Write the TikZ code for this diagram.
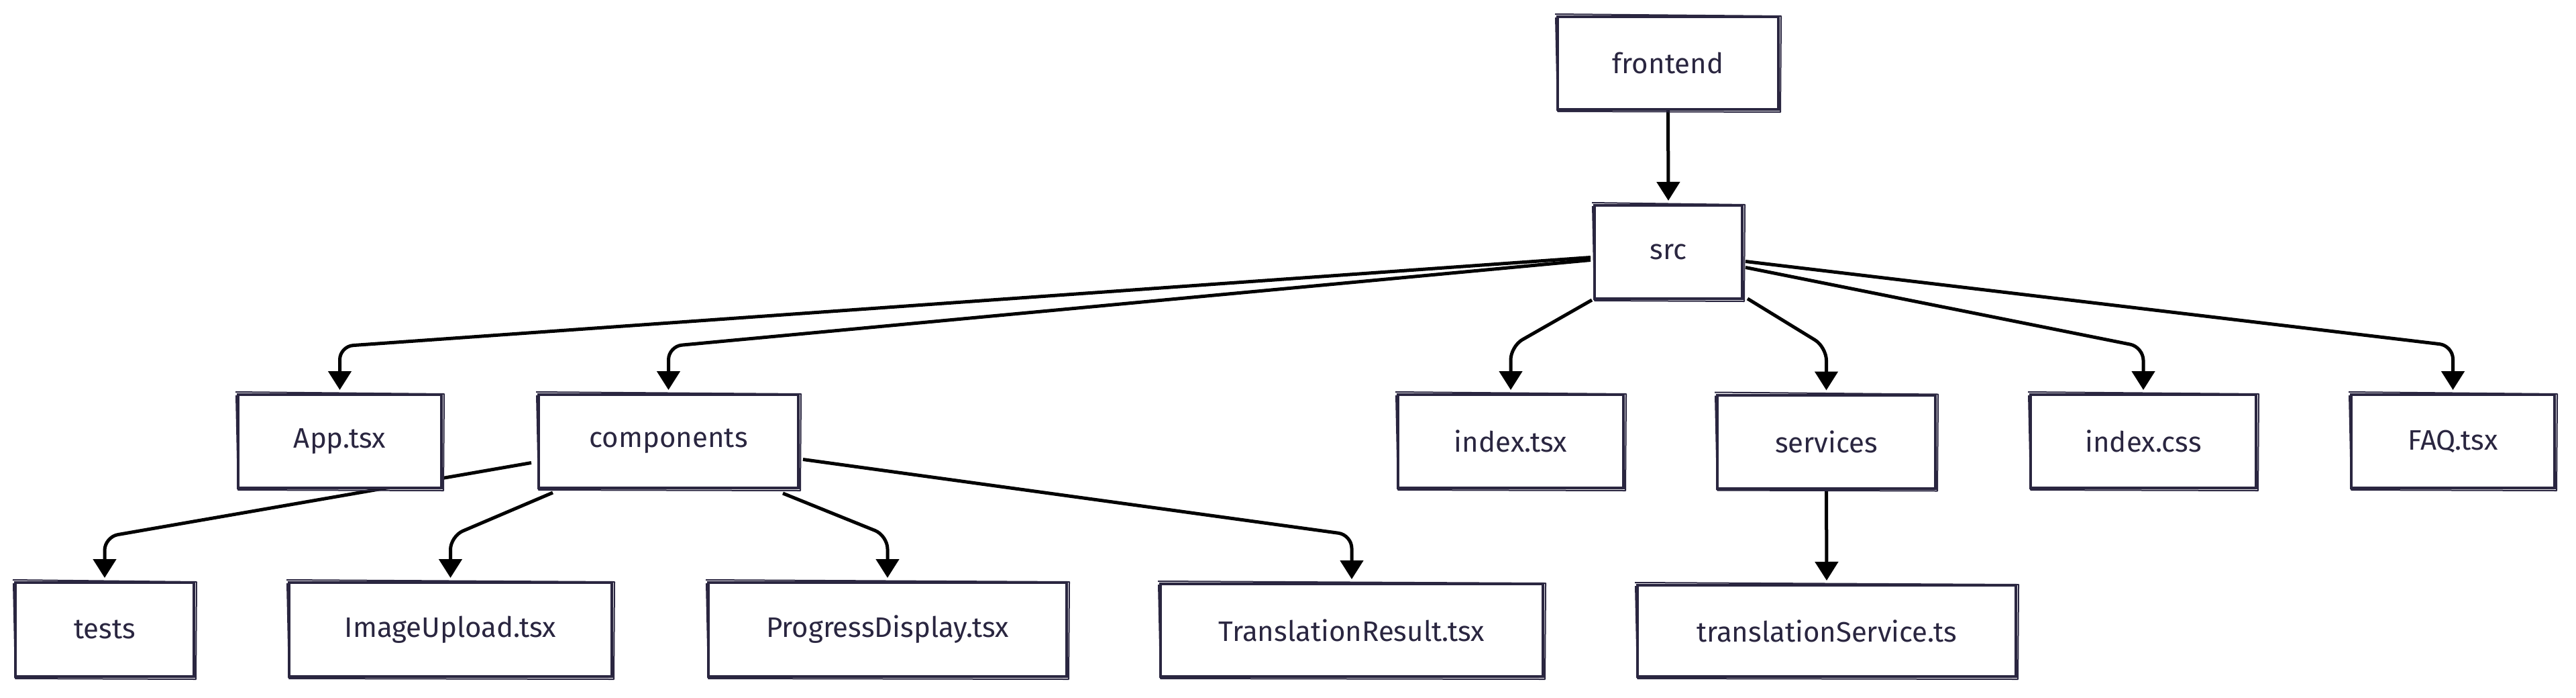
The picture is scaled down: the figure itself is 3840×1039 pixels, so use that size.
\documentclass[tikz,border=0pt]{standalone}
\usepackage{fontspec}
\setsansfont{Fira Sans}
\usetikzlibrary{arrows.meta,calc}
\definecolor{ink}{HTML}{2A2640}
\pgfdeclarelayer{paper}
\pgfdeclarelayer{wires}
\pgfsetlayers{paper,wires,main}
\tikzset{
  fbox/.style={draw=ink, line width=4pt, fill=white, text=ink, inner sep=0pt,
    font=\sffamily\fontsize{42}{50}\selectfont},
  sketch/.style={draw=ink, line width=2pt, line join=round},
  wire/.style={draw=black, line width=5pt, rounded corners=20pt, shorten >=5pt,
    -{Triangle[width=34pt,length=28pt]}}
}
\begin{document}
\begin{tikzpicture}[x=1pt,y=-1pt]
\begin{pgfonlayer}{paper}
\fill[white] (0,0) rectangle (3840,1039);
\end{pgfonlayer}
\useasboundingbox (0,0) rectangle (3840,1039);
% nodes
\node[fbox, minimum width=329, minimum height=138] (frontend) at (2486.5,94) {frontend};
\node[fbox, minimum width=220, minimum height=139] (src) at (2487,375.5) {src};
\node[fbox, minimum width=303, minimum height=139] (app) at (506.5,657.5) {App.tsx};
\node[fbox, minimum width=387, minimum height=139] (comp) at (996.5,657.5) {components};
\node[fbox, minimum width=336, minimum height=139] (idxtsx) at (2252,657.5) {index.tsx};
\node[fbox, minimum width=325, minimum height=139] (serv) at (2722.5,658) {services};
\node[fbox, minimum width=336, minimum height=139] (idxcss) at (3195,657.5) {index.css};
\node[fbox, minimum width=303, minimum height=139] (faq) at (3656.5,657.5) {FAQ.tsx};
\node[fbox, minimum width=266, minimum height=140] (tests) at (156,938) {tests};
\node[fbox, minimum width=481, minimum height=140] (imgup) at (671.5,938) {ImageUpload.tsx};
\node[fbox, minimum width=534, minimum height=140] (prog) at (1323,938) {ProgressDisplay.tsx};
\node[fbox, minimum width=570, minimum height=138] (trres) at (2015,939) {TranslationResult.tsx};
\node[fbox, minimum width=564, minimum height=136] (trsvc) at (2723,940) {translationService.ts};
% hand-drawn second strokes
\foreach \n in {frontend,src,app,comp,idxtsx,serv,idxcss,faq,tests,imgup,prog,trres,trsvc}{
  \draw[sketch] ($(\n.north west)+(-2,-2)$) -- ($(\n.north east)+(2,1)$)
    -- ($(\n.south east)+(1,2)$) -- ($(\n.south west)+(2,1)$) -- ($(\n.north west)+(-1,3)$);
}
% connectors
\begin{pgfonlayer}{wires}
\draw[wire] (frontend.south) -- (src.north);
\draw[wire] ($(src.west)+(-4,8)$) -- (app.north |- 0,516) -- (app.north);
\draw[wire] ($(src.west)+(-4,12)$) -- (comp.north |- 0,516) -- (comp.north);
\draw[wire] ($(src.south west)+(-2,0)$) -- (idxtsx.north |- 0,516) -- (idxtsx.north);
\draw[wire] ($(src.south east)+(6,-2)$) -- (serv.north |- 0,517) -- (serv.north);
\draw[wire] ($(src.east)+(3,23)$) -- (idxcss.north |- 0,517) -- (idxcss.north);
\draw[wire] ($(src.east)+(3,14)$) -- (faq.north |- 0,515) -- (faq.north);
\draw[wire] ($(comp.west)+(-9,32)$) -- (tests.north |- 0,800) -- (tests.north);
\draw[wire] ($(comp.south west)+(23,5)$) -- (imgup.north |- 0,799) -- (imgup.north);
\draw[wire] ($(comp.south east)+(-25,6)$) -- (prog.north |- 0,798) -- (prog.north);
\draw[wire] ($(comp.east)+(5,27)$) -- (trres.north |- 0,797) -- (trres.north);
\draw[wire] (serv.south) -- (trsvc.north);
\end{pgfonlayer}
\end{tikzpicture}
\end{document}
